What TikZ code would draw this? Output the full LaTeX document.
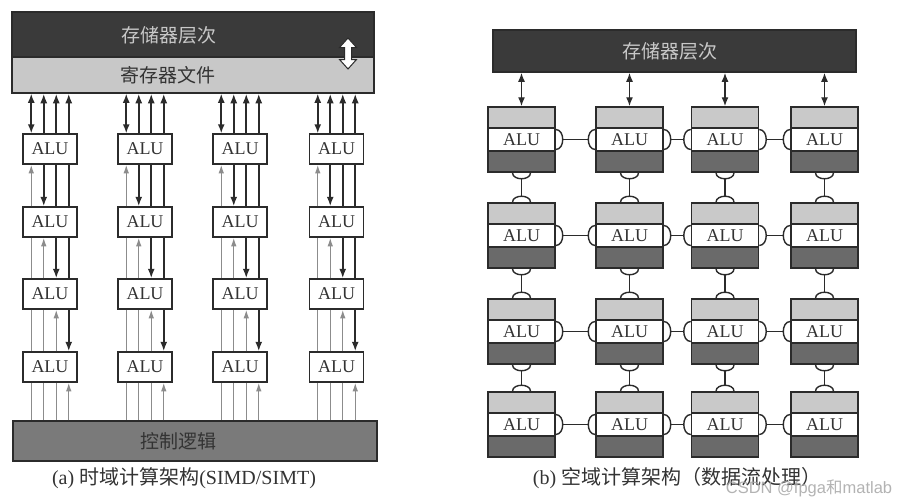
\documentclass[tikz,border=0pt]{standalone}
\usepackage{fontspec}
\setmainfont{Liberation Serif}
\newfontfamily\cjk{Noto Sans CJK SC}
\newfontfamily\wmfont{Liberation Sans}
\usetikzlibrary{arrows.meta,calc}
\definecolor{memdark}{HTML}{3A3A3A}
\definecolor{reglight}{HTML}{C8C8C8}
\definecolor{ctrlgray}{HTML}{7A7A7A}
\definecolor{bandlight}{HTML}{C9C9C9}
\definecolor{banddark}{HTML}{6A6A6A}
\definecolor{linedark}{HTML}{2B2B2B}
\definecolor{linegray}{HTML}{8C8C8C}
\definecolor{txtdark}{HTML}{333333}
\begin{document}
\begin{tikzpicture}[x=1pt,y=-1pt,
  blockbox/.style={draw=linedark,line width=1.5pt,inner sep=0pt},
  bigtxt/.style={font=\cjk\fontsize{19}{19}\selectfont,inner sep=0pt},
  alubox/.style={draw=linedark,line width=1.5pt,fill=white,minimum width=54pt,minimum height=30pt,inner sep=0pt,font=\fontsize{18}{18}\selectfont,text=txtdark},
  darkln/.style={draw=linedark,line width=1.6pt},
  grayln/.style={draw=linegray,line width=1.3pt},
  tipd/.style={-{Latex[length=9.5pt,width=7pt]}},
  tipg/.style={-{Latex[length=8.5pt,width=5.5pt]}},
  tipb/.style={{Latex[length=9pt,width=7pt]}-{Latex[length=9pt,width=7pt]}},
  cellbox/.style={draw=linedark,line width=1.5pt,minimum width=67pt,minimum height=65pt,inner sep=0pt},
  aluband/.style={draw=linedark,line width=1.5pt,fill=white,minimum width=67pt,minimum height=23pt,inner sep=0pt,font=\fontsize{18}{18}\selectfont,text=txtdark},
  cellln/.style={draw=linedark,line width=1.4pt},
  captxt/.style={font=\fontsize{20}{20}\selectfont,text=txtdark,inner sep=0pt}
]
\useasboundingbox[fill=white] (0,0) rectangle (901,501);

% ---------------- left panel ----------------
\node[blockbox,fill=memdark,minimum width=362pt,minimum height=45pt] (mem) at (193,34.5) {};
\node[blockbox,fill=reglight,minimum width=362pt,minimum height=36pt] (reg) at (193,75) {};
\node[bigtxt,text=reglight] (memtxt) at (169,35) {存储器层次};
\node[bigtxt,text=txtdark] (regtxt) at (168,75) {寄存器文件};
\draw[line width=1pt,fill=white,draw=linedark] (348,38) -- (356.5,47.5) -- (351.5,47.5) -- (351.5,59.5) -- (356.5,59.5) -- (348,69) -- (339.5,59.5) -- (344.5,59.5) -- (344.5,47.5) -- (339.5,47.5) -- cycle;

\node[blockbox,fill=ctrlgray,minimum width=364pt,minimum height=40pt] (ctrl) at (195,441) {};
\node[bigtxt,text=txtdark] (ctrltxt) at (178,441) {控制逻辑};

\foreach \g/\cx in {1/50,2/145,3/240,4/336.5}{
  \foreach \r/\cy in {1/149,2/222,3/294,4/367}{
    \node[alubox] (a-\r-\g) at (\cx,\cy) {ALU};
  }
  % top segment
  \draw[darkln,tipb] ([xshift=-18.75pt]a-1-\g.north |- reg.south) -- ([xshift=-18.75pt]a-1-\g.north);
  \foreach \dx in {-6.25,6.25,18.75}{
    \draw[darkln,tipd] ([xshift=\dx pt]a-1-\g.north) -- ([xshift=\dx pt]a-1-\g.north |- reg.south);
  }
  % middle segments
  \foreach \r/\rn in {1/2,2/3,3/4}{
    \foreach \j/\dx in {1/-18.75,2/-6.25,3/6.25,4/18.75}{
      \ifnum\j<\r
        \draw[grayln] ([xshift=\dx pt]a-\r-\g.south) -- ([xshift=\dx pt]a-\rn-\g.north);
      \fi
      \ifnum\j=\r
        \draw[grayln,tipg] ([xshift=\dx pt]a-\rn-\g.north) -- ([xshift=\dx pt]a-\r-\g.south);
      \fi
      \ifnum\j=\rn
        \draw[darkln,tipd] ([xshift=\dx pt]a-\r-\g.south) -- ([xshift=\dx pt]a-\rn-\g.north);
      \fi
      \ifnum\j>\rn
        \draw[darkln] ([xshift=\dx pt]a-\r-\g.south) -- ([xshift=\dx pt]a-\rn-\g.north);
      \fi
    }
  }
  % bottom segment
  \foreach \dx in {-18.75,-6.25,6.25}{
    \draw[grayln] ([xshift=\dx pt]a-4-\g.south) -- ([xshift=\dx pt]a-4-\g.south |- ctrl.north);
  }
  \draw[grayln,tipg] ([xshift=18.75pt]a-4-\g.south |- ctrl.north) -- ([xshift=18.75pt]a-4-\g.south);
}

\node[captxt] (capa) at (184,478) {(a) {\cjk 时域计算架构}(SIMD/SIMT)};

% ---------------- right panel ----------------
\node[blockbox,fill=memdark,minimum width=363pt,minimum height=42pt] (mem2) at (674.5,51) {};
\node[bigtxt,text=reglight] (mem2txt) at (670,51) {存储器层次};

\foreach \c/\cx in {1/521.5,2/629.5,3/725,4/824.5}{
  \foreach \r/\top in {1/107,2/203,3/299,4/392}{
    \node[cellbox] (b-\r-\c) at (\cx,\top+32.5) {};
    \fill[bandlight] (b-\r-\c.north west) rectangle ([yshift=-21pt]b-\r-\c.north east);
    \fill[banddark] (b-\r-\c.south west) rectangle ([yshift=21pt]b-\r-\c.south east);
    \node[cellbox] at (b-\r-\c) {};
    \node[aluband] (c-\r-\c) at (b-\r-\c) {ALU};
  }
  \draw[darkln,line width=1.4pt,tipb] (b-1-\c.north |- mem2.south) -- (b-1-\c.north);
}

% horizontal links
\foreach \r in {1,2,3,4}{
  \foreach \c/\cn in {1/2,2/3,3/4}{
    \draw[cellln] ([yshift=10pt]c-\r-\c.east) .. controls +(9.3,0) and +(9.3,0) .. ([yshift=-10pt]c-\r-\c.east);
    \draw[cellln] ([yshift=10pt]c-\r-\cn.west) .. controls +(-9.3,0) and +(-9.3,0) .. ([yshift=-10pt]c-\r-\cn.west);
    \draw[cellln] ([xshift=7pt]c-\r-\c.east) -- ([xshift=-7pt]c-\r-\cn.west);
  }
}
% vertical links
\foreach \c in {1,2,3,4}{
  \foreach \r/\rn in {1/2,2/3,3/4}{
    \draw[cellln] ([xshift=-9pt]b-\r-\c.south) .. controls +(0,8) and +(0,8) .. ([xshift=9pt]b-\r-\c.south);
    \draw[cellln] ([xshift=-9pt]b-\rn-\c.north) .. controls +(0,-8) and +(0,-8) .. ([xshift=9pt]b-\rn-\c.north);
    \draw[cellln] ([yshift=-6pt]b-\r-\c.south) -- ([yshift=6pt]b-\rn-\c.north);
  }
}

\node[captxt] (capb) at (677,478) {(b) {\cjk 空域计算架构（数据流处理）}};

\node[font=\wmfont\fontsize{16.5}{16.5}\selectfont,text=gray!70,opacity=0.85,inner sep=0pt] (wm) at (809,488) {CSDN @fpga{\cjk 和}matlab};
\end{tikzpicture}
\end{document}
